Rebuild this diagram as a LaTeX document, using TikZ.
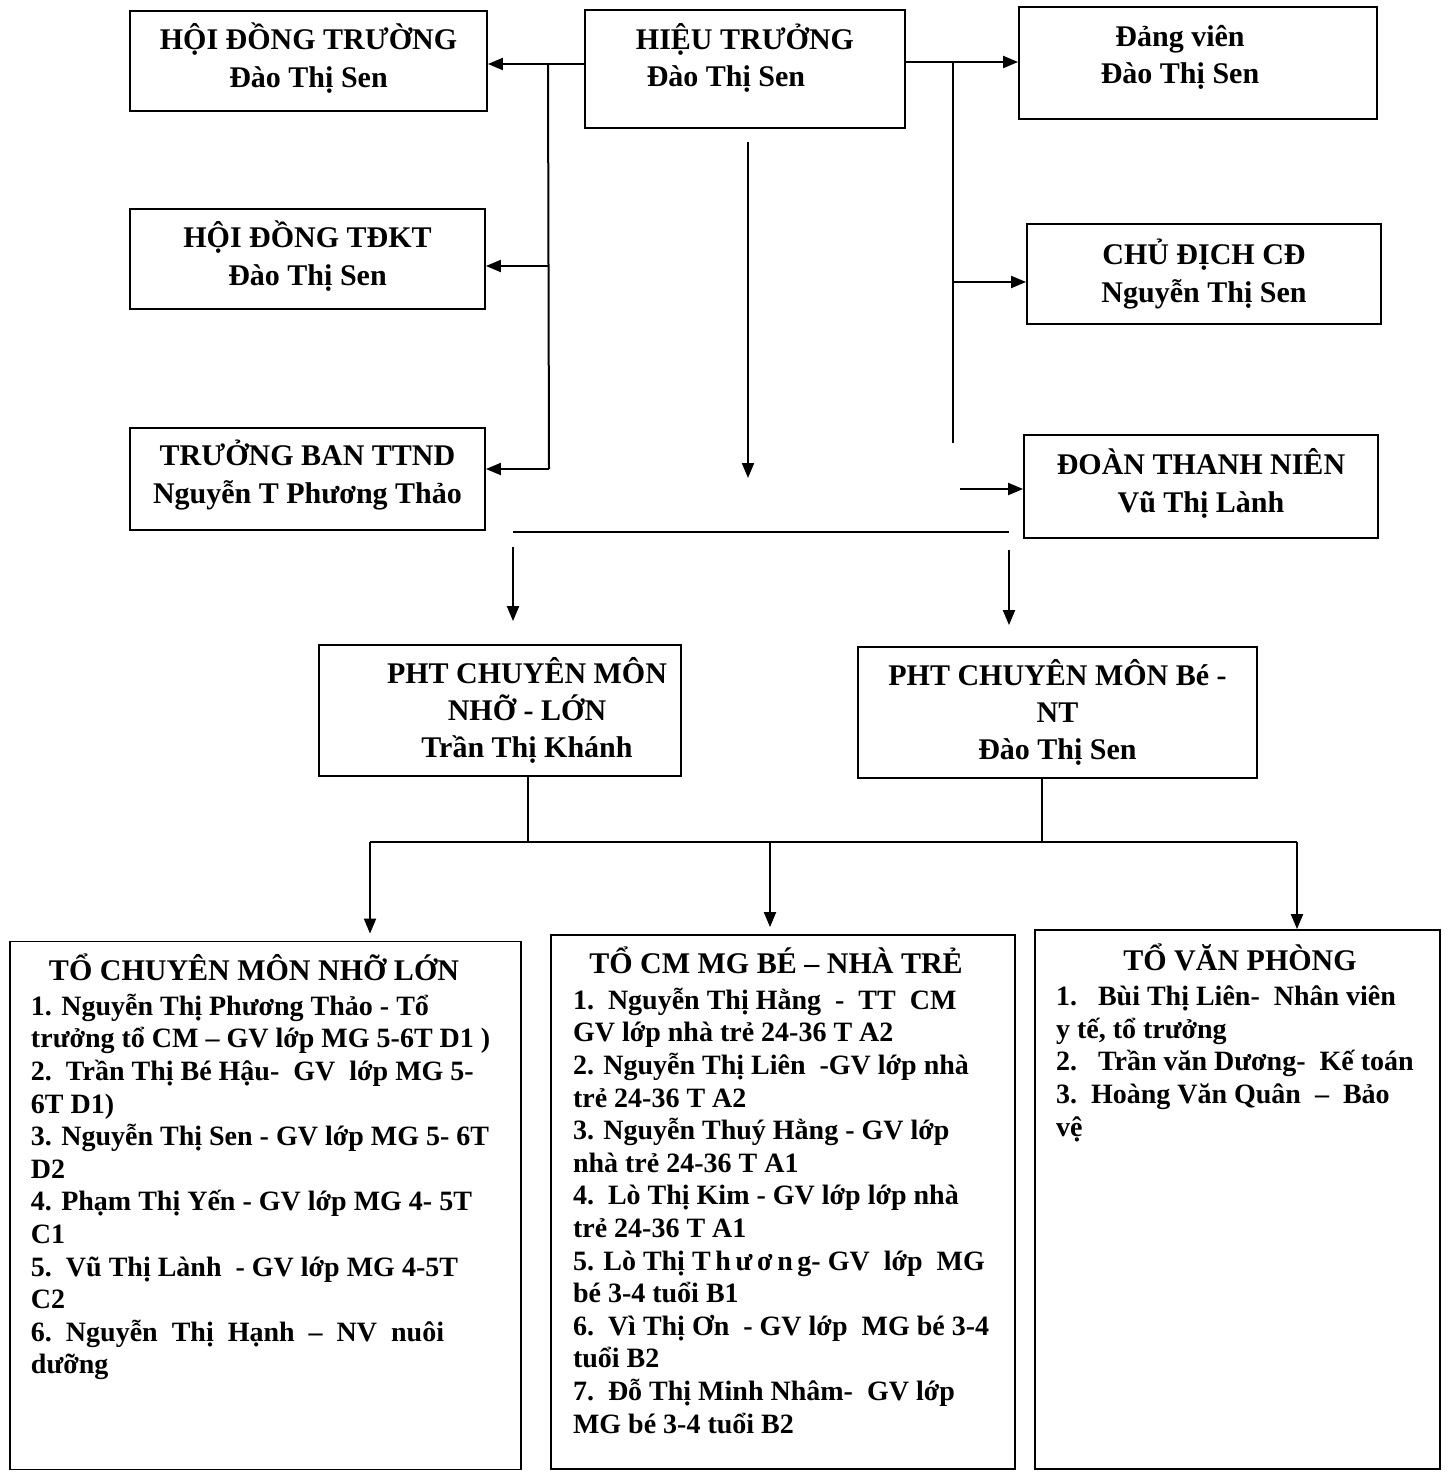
\documentclass[tikz,border=0pt]{standalone}
\usepackage{fontspec}
\setmainfont{Liberation Serif}
\usetikzlibrary{arrows.meta}

\begin{document}
\begin{tikzpicture}[x=0.5pt, y=-0.5pt, >={Triangle[length=7.5pt,width=6pt]}, line width=1pt,
  box/.style={rectangle, draw, line width=0.9pt, inner sep=0pt},
  lbl/.style={font=\bfseries\fontsize{15}{18.6}\selectfont, align=center, inner sep=0pt},
  ttl/.style={font=\bfseries\fontsize{15}{18}\selectfont, anchor=base, inner sep=0pt},
  lst/.style={font=\bfseries\fontsize{14}{16.3}\selectfont, align=left, anchor=north west, inner sep=0pt}]
\useasboundingbox (0,0) rectangle (1447,1473);

% top boxes
\node [box, minimum width=178.5pt, minimum height=50pt] (hdt) at (308.5,61) {};
\node [box, minimum width=160pt, minimum height=59pt] (ht) at (745,69) {};
\node [box, minimum width=179pt, minimum height=56pt] (dv) at (1198,63) {};
\node [box, minimum width=177.5pt, minimum height=50pt] (tdkt) at (307.5,259) {};
\node [box, minimum width=177pt, minimum height=50pt] (cd) at (1204,274) {};
\node [box, minimum width=177.5pt, minimum height=51pt] (ttnd) at (307.5,479) {};
\node [box, minimum width=177pt, minimum height=51.5pt] (dtn) at (1201,486.5) {};

\node [lbl, yshift=1.5pt] (hdt-t) at (hdt) {HỘI ĐỒNG TRƯỜNG\\Đào Thị Sen};
\node [lbl, yshift=5.5pt] (ht-t) at (ht) {HIỆU TRƯỞNG\\Đào Thị Sen\hspace*{19pt}};
\node [lbl, xshift=-9pt, yshift=3pt] (dv-t) at (dv) {Đảng viên\\Đào Thị Sen};
\node [lbl, yshift=1.5pt] (tdkt-t) at (tdkt) {HỘI ĐỒNG TĐKT\\Đào Thị Sen};
\node [lbl] (cd-t) at (cd) {CHỦ ĐỊCH CĐ\\Nguyễn Thị Sen};
\node [lbl, yshift=2pt] (ttnd-t) at (ttnd) {TRƯỞNG BAN TTND\\Nguyễn T Phương Thảo};
\node [lbl, yshift=1.5pt] (dtn-t) at (dtn) {ĐOÀN THANH NIÊN\\Vũ Thị Lành};

% pho hieu truong
\node [box, minimum width=181pt, minimum height=65.5pt] (pht1) at (500,710.5) {};
\node [box, minimum width=199.5pt, minimum height=65.5pt] (pht2) at (1057.5,712.5) {};
\node [lbl, xshift=13.5pt] (pht1-t) at (pht1) {PHT CHUYÊN MÔN\\NHỠ - LỚN\hspace*{17pt}\\Trần Thị Khánh};
\node [lbl] (pht2-t) at (pht2) {PHT CHUYÊN MÔN Bé -\\NT\\Đào Thị Sen};

% to chuyen mon
\node [box, minimum width=255.5pt, minimum height=264pt] (cm1) at (265.5,1205.5) {};
\node [box, minimum width=232pt, minimum height=267pt] (cm2) at (783,1202) {};
\node [box, minimum width=202.5pt, minimum height=269.5pt] (vp) at (1237.5,1199.5) {};

\node [ttl] (cm1-t) at (254,980) {TỔ CHUYÊN MÔN NHỠ LỚN};
\node [ttl] (cm2-t) at (776,973) {TỔ CM MG BÉ – NHÀ TRẺ};
\node [ttl] (vp-t) at (1240,970) {TỔ VĂN PHÒNG};

\node [lst] (cm1-l) at (30,993) {1. Nguyễn Thị Phương Thảo - Tổ\\
trưởng tổ CM – GV lớp MG 5-6T D1 )\\
2.\ \ Trần Thị Bé Hậu-\ \ GV\ \ lớp MG 5-\\
6T D1)\\
3. Nguyễn Thị Sen - GV lớp MG 5- 6T\\
D2\\
4. Phạm Thị Yến - GV lớp MG 4- 5T\\
C1\\
5.\ \ Vũ Thị Lành\ \ - GV lớp MG 4-5T\\
C2\\
6.\ \ Nguyễn\ \ Thị\ \ Hạnh\ \ –\ \ NV\ \ nuôi\\
dưỡng};
\node [lst] (cm2-l) at (572,987) {1.\ \ Nguyễn Thị Hằng\ \ -\ \ TT\ \ CM\\
GV lớp nhà trẻ 24-36 T A2\\
2. Nguyễn Thị Liên\ \ -GV lớp nhà\\
trẻ 24-36 T A2\\
3. Nguyễn Thuý Hằng - GV lớp\\
nhà trẻ 24-36 T A1\\
4.\ \ Lò Thị Kim - GV lớp lớp nhà\\
trẻ 24-36 T A1\\
5. Lò Thị T\,h\,ư\,ơ\,n\,g- GV\ \ lớp\ \ MG\\
bé 3-4 tuổi B1\\
6.\ \ Vì Thị Ơn\ \ - GV lớp\ \ MG bé 3-4\\
tuổi B2\\
7.\ \ Đỗ Thị Minh Nhâm-\ \ GV lớp\\
MG bé 3-4 tuổi B2};
\node [lst] (vp-l) at (1055,985) {1.\ \ \ Bùi Thị Liên-\ \ Nhân viên\\
y tế, tổ trưởng\\
2.\ \ \ Trần văn Dương-\ \ Kế toán\\
3.\ \ Hoàng Văn Quân\ \ –\ \ Bảo\\
vệ};

% left trunk
\coordinate (lt1) at (548,64);
\coordinate (lt2) at (549,266);
\coordinate (lt3) at (549,469);
\draw [->] (ht.west |- lt1) -- (lt1 -| hdt.east);
\draw (lt1) -- (lt3);
\draw [->] (lt2) -- (lt2 -| tdkt.east);
\draw [->] (lt3) -- (lt3 -| ttnd.east);

% right trunk
\coordinate (rt1) at (953,62);
\coordinate (rt2) at (953,282);
\coordinate (rt3) at (953,443);
\coordinate (rt4) at (960,489);
\draw [->] (ht.east |- rt1) -- (rt1 -| dv.west);
\draw (rt1) -- (rt3);
\draw [->] (rt2) -- (rt2 -| cd.west);
\draw [->] (rt4) -- (rt4 -| dtn.west);

% middle
\coordinate (ct) at (748,478);
\draw [->, shorten <=6.5pt] (ht.south -| ct) -- (ct);
\coordinate (bl) at (513,532);
\coordinate (br) at (1009,532);
\draw (bl) -- (br);
\draw [->, shorten <=7.5pt, shorten >=11.5pt] (bl) -- (bl |- pht1.north);
\draw [->, shorten <=9pt, shorten >=10.5pt] (br) -- (br |- pht2.north);

% lower bar
\coordinate (s1) at (528,842);
\coordinate (s2) at (1042,842);
\coordinate (b2l) at (370,842);
\coordinate (b2m) at (770,842);
\coordinate (b2r) at (1297,842);
\draw (s1 |- pht1.south) -- (s1);
\draw (s2 |- pht2.south) -- (s2);
\draw (b2l) -- (b2r);
\draw [->, shorten >=3.5pt] (b2l) -- (b2l |- cm1.north);
\draw [->, shorten >=3.5pt] (b2m) -- (b2m |- cm2.north);
\draw [->] (b2r) -- (b2r |- vp.north);
\end{tikzpicture}
\end{document}
